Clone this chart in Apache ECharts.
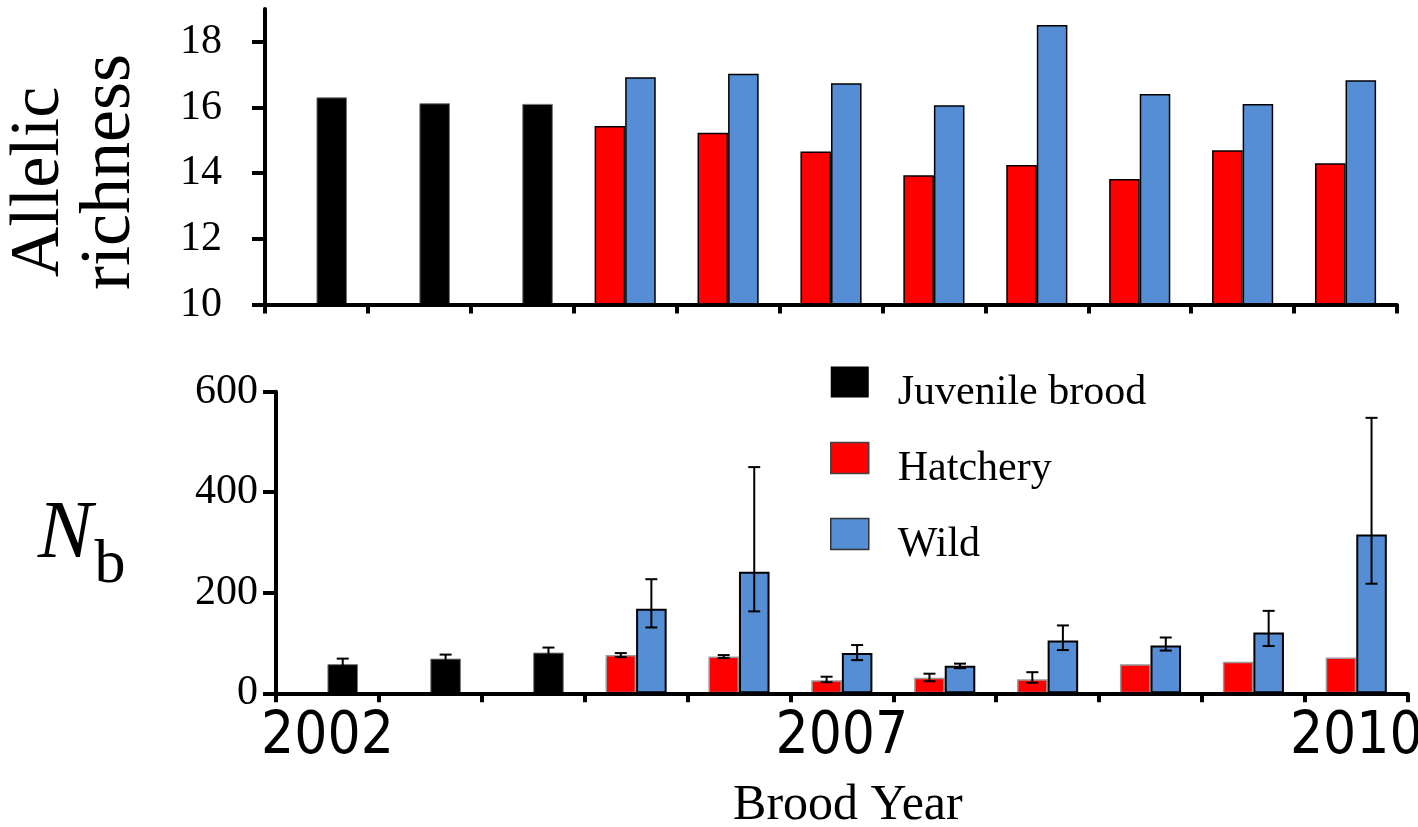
<!DOCTYPE html>
<html>
<head>
<meta charset="utf-8">
<script src="https://cdn.jsdelivr.net/npm/echarts@6/dist/echarts.min.js"></script>
<style>html,body{margin:0;padding:0;background:#fff;}#c{width:1418px;height:827px;}</style>
</head>
<body>
<div id="c"></div>
<script>
// ---------- data ----------
const xTickLabels = ['2002', '', '', '', '', '2007', '', '', '', '', '2010'];
const seriesNames = ['Juvenile brood', 'Hatchery', 'Wild'];

// Allelic richness (top panel)
const richJuvenile = [16.31, 16.13, 16.11, null, null, null, null, null, null, null, null];
const richHatchery = [null, null, null, 15.44, 15.23, 14.66, 13.94, 14.25, 13.82, 14.70, 14.30];
const richWild     = [null, null, null, 16.92, 17.03, 16.74, 16.07, 18.51, 16.41, 16.11, 16.83];
const richTicks = [10, 12, 14, 16, 18];

// Nb (bottom panel) with error bar limits
const nbJuvenile     = [58, 69, 81, null, null, null, null, null, null, null, null];
const nbJuvenileLow  = [48, 61, 71, null, null, null, null, null, null, null, null];
const nbJuvenileHigh = [69, 77, 91, null, null, null, null, null, null, null, null];
const nbHatchery     = [null, null, null, 76, 73, 26, 31, 28, 58, 63, 71];
const nbHatcheryLow  = [null, null, null, 72, 70, 22, 24, 21, null, null, null];
const nbHatcheryHigh = [null, null, null, 80, 76, 33, 39, 42, null, null, null];
const nbWild         = [null, null, null, 168, 242, 80, 55, 105, 95, 121, 316];
const nbWildLow      = [null, null, null, 131, 163, 66, 50, 86, 85, 94, 218];
const nbWildHigh     = [null, null, null, 227, 450, 96, 59, 135, 111, 164, 548];
const nbTicks = [0, 200, 400, 600];

// ---------- styles ----------
const RED = '#FF0000', BLUE = '#558ED5', BLACK = '#000000';
const BAR_FRAC = 0.297;
const SERIF = "'Liberation Serif', 'Times New Roman', serif";
const NARROW = "'Liberation Sans Narrow', 'DejaVu Sans Condensed', 'Liberation Sans', sans-serif";
const cats = xTickLabels.map((_, i) => 'c' + i);
const dash = a => a.map(v => (v == null ? '-' : v));

function catAxis(gridIndex, visible, withLabels) {
  return {
    type: 'category', gridIndex: gridIndex, data: cats, boundaryGap: true, show: visible, z: 5,
    axisLine: { show: true, lineStyle: { color: '#000', width: 4 } },
    axisTick: { show: true, length: 9, lineStyle: { color: '#000', width: 4 }, alignWithLabel: false },
    axisLabel: withLabels ? {
      show: true, interval: 0, margin: 16, color: '#000', fontSize: 58, fontFamily: NARROW,
      formatter: (v, i) => xTickLabels[i]
    } : { show: false },
    splitLine: { show: false }
  };
}

const errData = [];
function pushErr(lo, hi, slot) {
  lo.forEach((v, i) => { if (v != null && hi[i] != null) errData.push([i, v, hi[i], slot]); });
}
pushErr(nbJuvenileLow, nbJuvenileHigh, 1);
pushErr(nbHatcheryLow, nbHatcheryHigh, -1);
pushErr(nbWildLow, nbWildHigh, 1);

const barCommon = { type: 'bar', barWidth: (BAR_FRAC * 100) + '%', barGap: '0%', animation: false };

const option = {
  animation: false,
  backgroundColor: '#fff',
  grid: [
    { left: 265, right: 21, top: 9, bottom: 522.5, outerBoundsMode: 'none', containLabel: false },
    { left: 276, right: 10.3, top: 391.7, bottom: 133.7, outerBoundsMode: 'none', containLabel: false }
  ],
  xAxis: [
    catAxis(0, true, false),
    catAxis(0, false, false),
    Object.assign(catAxis(1, true, true), {
      name: 'Brood Year', nameLocation: 'middle', nameGap: 88, nameMoveOverlap: false,
      nameTextStyle: { fontSize: 50, fontFamily: SERIF, color: '#000', padding: [0, 0, 0, 12] }
    }),
    catAxis(1, false, false)
  ],
  yAxis: [
    {
      type: 'value', gridIndex: 0, min: 10, max: 19, interval: 2, z: 5,
      axisLine: { show: true, lineStyle: { color: '#000', width: 4 } },
      axisTick: { show: true, length: 13, lineStyle: { color: '#000', width: 4 }, customValues: richTicks },
      axisLabel: { margin: 43, fontSize: 42, fontFamily: SERIF, color: '#000', customValues: richTicks },
      splitLine: { show: false }
    },
    {
      type: 'value', gridIndex: 1, min: 0, max: 600, interval: 200, z: 5,
      axisLine: { show: true, lineStyle: { color: '#000', width: 4 } },
      axisTick: { show: true, length: 13, lineStyle: { color: '#000', width: 4 }, customValues: nbTicks },
      axisLabel: { margin: 18, fontSize: 42, fontFamily: SERIF, color: '#000', customValues: nbTicks },
      splitLine: { show: false }
    }
  ],
  legend: {
    orient: 'vertical', left: 830, top: 350, padding: 0, itemGap: 12,
    itemWidth: 38, itemHeight: 31, icon: 'rect',
    formatter: name => '{t|' + name + '}',
    textStyle: {
      fontSize: 42, fontFamily: SERIF, color: '#000',
      rich: { t: { fontSize: 42, fontFamily: SERIF, color: '#000', lineHeight: 40, padding: [22, 0, 0, 24] } }
    },
    data: [
      { name: seriesNames[0], itemStyle: { color: BLACK, borderWidth: 0 } },
      { name: seriesNames[1], itemStyle: { color: RED, borderColor: '#444', borderWidth: 1.5 } },
      { name: seriesNames[2], itemStyle: { color: BLUE, borderColor: '#333', borderWidth: 1.5 } }
    ]
  },
  graphic: [
    { type: 'text', x: 40, y: 182, rotation: Math.PI / 2,
      style: { text: 'Allelic', fontSize: 70, fontFamily: SERIF, fill: '#000', align: 'center', verticalAlign: 'middle' } },
    { type: 'text', x: 110, y: 172, rotation: Math.PI / 2,
      style: { text: 'richness', fontSize: 72, fontFamily: SERIF, fill: '#000', align: 'center', verticalAlign: 'middle' } },
    { type: 'text', x: 65, y: 535,
      style: { text: 'N', fontSize: 82, fontStyle: 'italic', fontFamily: SERIF, fill: '#000', align: 'center', verticalAlign: 'middle' } },
    { type: 'text', x: 110, y: 566,
      style: { text: 'b', fontSize: 62, fontFamily: SERIF, fill: '#000', align: 'center', verticalAlign: 'middle' } }
  ],
  series: [
    // top panel
    Object.assign({}, barCommon, { name: seriesNames[1], xAxisIndex: 0, yAxisIndex: 0, data: dash(richHatchery),
      itemStyle: { color: RED, borderColor: '#000', borderWidth: 1.5 } }),
    Object.assign({}, barCommon, { name: seriesNames[2], xAxisIndex: 0, yAxisIndex: 0, data: dash(richWild),
      itemStyle: { color: BLUE, borderColor: '#000', borderWidth: 1.5 } }),
    Object.assign({}, barCommon, { name: 'slotA', xAxisIndex: 1, yAxisIndex: 0, data: dash(richJuvenile.map(() => null)),
      itemStyle: { color: 'transparent' } }),
    Object.assign({}, barCommon, { name: seriesNames[0], xAxisIndex: 1, yAxisIndex: 0, data: dash(richJuvenile),
      itemStyle: { color: BLACK, borderColor: '#777', borderWidth: 1 } }),
    // bottom panel
    Object.assign({}, barCommon, { name: seriesNames[1], xAxisIndex: 2, yAxisIndex: 1, data: dash(nbHatchery),
      itemStyle: { color: RED, borderColor: '#999', borderWidth: 1.5 } }),
    Object.assign({}, barCommon, { name: seriesNames[2], xAxisIndex: 2, yAxisIndex: 1, data: dash(nbWild),
      itemStyle: { color: BLUE, borderColor: '#000', borderWidth: 2 } }),
    Object.assign({}, barCommon, { name: 'slotB', xAxisIndex: 3, yAxisIndex: 1, data: dash(nbJuvenile.map(() => null)),
      itemStyle: { color: 'transparent' } }),
    Object.assign({}, barCommon, { name: seriesNames[0], xAxisIndex: 3, yAxisIndex: 1, data: dash(nbJuvenile),
      itemStyle: { color: BLACK, borderColor: '#777', borderWidth: 1 } }),
    {
      type: 'custom', name: 'errors', xAxisIndex: 2, yAxisIndex: 1, z: 10, animation: false,
      encode: { x: 0, y: [1, 2] },
      data: errData,
      renderItem: function (params, api) {
        const i = api.value(0), lo = api.value(1), hi = api.value(2), slot = api.value(3);
        const band = api.size([1, 0])[0];
        const w = band * BAR_FRAC;
        const pLo = api.coord([i, lo]);
        const pHi = api.coord([i, hi]);
        const cx = pLo[0] + slot * w / 2;
        const cap = 6;
        const st = { stroke: '#000', lineWidth: 2 };
        return {
          type: 'group',
          children: [
            { type: 'line', shape: { x1: cx, y1: pLo[1], x2: cx, y2: pHi[1] }, style: st },
            { type: 'line', shape: { x1: cx - cap, y1: pHi[1], x2: cx + cap, y2: pHi[1] }, style: st },
            { type: 'line', shape: { x1: cx - cap, y1: pLo[1], x2: cx + cap, y2: pLo[1] }, style: st }
          ]
        };
      }
    }
  ]
};

const chart = echarts.init(document.getElementById('c'), null, { renderer: 'canvas' });
chart.setOption(option);
</script>
</body>
</html>
